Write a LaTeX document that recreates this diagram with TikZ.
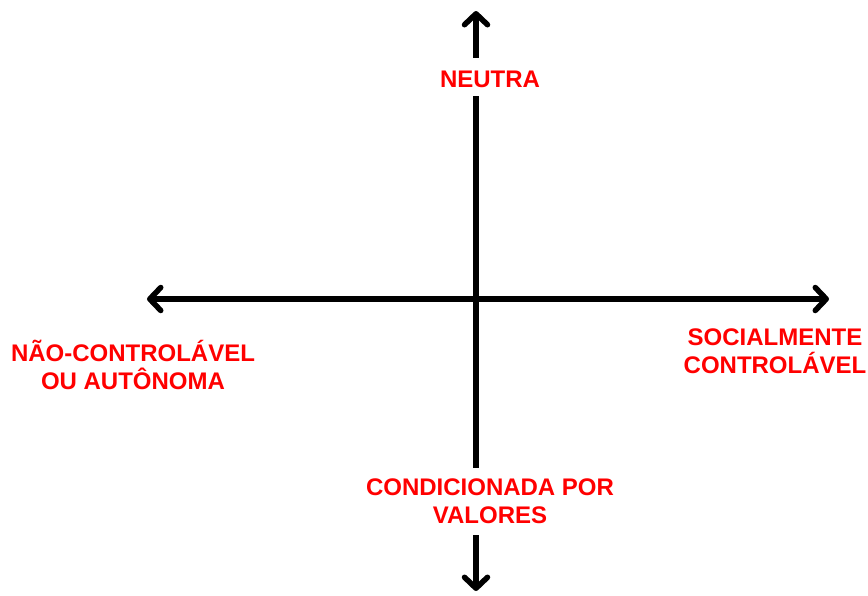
\documentclass[tikz,border=0pt]{standalone}
\usepackage{fontspec}
\setmainfont{Liberation Sans}
\usetikzlibrary{arrows.meta}

\tikzset{
  axisline/.style={line width=5.5pt, line cap=round,
    {Straight Barb[round,length=11pt,width=23pt]}-{Straight Barb[round,length=11pt,width=23pt]}},
  axislabel/.style={text=red, inner sep=0pt, align=center,
    font=\fontsize{24}{28}\selectfont\bfseries}
}

\begin{document}
\begin{tikzpicture}[x=1pt,y=-1pt]
        \useasboundingbox (0,0) rectangle (868,595);

        % axis ends
        \coordinate (top) at (476,11);
        \coordinate (bottom) at (476,591);
        \coordinate (left) at (147,299);
        \coordinate (right) at (829,299);

        \draw[axisline] (bottom) -- (top);
        \draw[axisline] (left) -- (right);

        \node[axislabel, fill=white, anchor=base, text height=24pt, text depth=4pt, inner ysep=5pt] (neutra) at (490,87) {NEUTRA};
        \node[axislabel, fill=white, inner ysep=11pt] (valores) at (490,501) {CONDICIONADA POR\\VALORES};
        \node[axislabel] (autonoma) at (133,365) {NÃO-CONTROLÁVEL\\OU AUTÔNOMA};
        \node[axislabel] (controlavel) at (775,351) {SOCIALMENTE\\CONTROLÁVEL};

\end{tikzpicture}
\end{document}
